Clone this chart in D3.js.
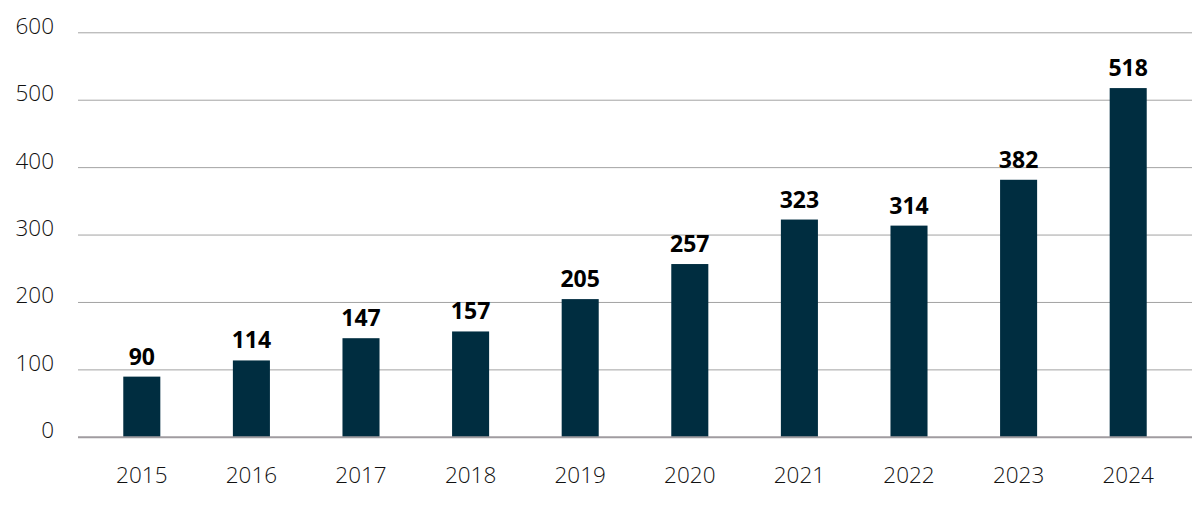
<!DOCTYPE html>
<html><head><meta charset="utf-8">
<script src="https://cdn.jsdelivr.net/npm/d3@7"></script>
<style>body{margin:0;background:#fff}</style>
</head><body>
<svg id="c" width="1200" height="510"></svg>
<script>
const years = ["2015","2016","2017","2018","2019","2020","2021","2022","2023","2024"];
const values = [90,114,147,157,205,257,323,314,382,518];
const yTicks = [0,100,200,300,400,500,600];

const svg = d3.select("#c");
const font = "'Open Sans', 'Noto Sans', sans-serif";
const x = d3.scaleBand().domain(years).range([87,1183]).paddingInner(0.662).paddingOuter(0.331);
const y = d3.scaleLinear().domain([0,600]).range([437.3,32.8]);

// gridlines
svg.append("g").selectAll("line").data(yTicks.filter(d=>d>0)).join("line")
  .attr("x1",78).attr("x2",1192)
  .attr("y1",d=>y(d)).attr("y2",d=>y(d))
  .attr("stroke","#a3a3a3").attr("stroke-width",1);

// y labels
svg.append("g").selectAll("text").data(yTicks).join("text")
  .attr("x",54).attr("y",d=>y(d)+1)
  .attr("text-anchor","end")
  .attr("font-family",font).attr("font-size",22.5).attr("font-weight",300)
  .attr("fill","#111").text(d=>d);

// bars
svg.append("g").selectAll("rect").data(values).join("rect")
  .attr("x",(d,i)=>x(years[i])).attr("width",x.bandwidth())
  .attr("y",d=>y(d)).attr("height",d=>y(0)-y(d))
  .attr("fill","#002d40");

// baseline
svg.append("line").attr("x1",78).attr("x2",1192).attr("y1",y(0)).attr("y2",y(0))
  .attr("stroke","#a09ca0").attr("stroke-width",2);

// value labels
svg.append("g").selectAll("text").data(values).join("text")
  .attr("x",(d,i)=>x(years[i])+x.bandwidth()/2).attr("y",d=>y(d)-12)
  .attr("text-anchor","middle")
  .attr("font-family",font).attr("font-size",23).attr("font-weight",700)
  .attr("fill","#000").text(d=>d);

// x labels
svg.append("g").selectAll("text").data(years).join("text")
  .attr("x",d=>x(d)+x.bandwidth()/2).attr("y",483)
  .attr("text-anchor","middle")
  .attr("font-family",font).attr("font-size",22.5).attr("font-weight",300)
  .attr("fill","#111").text(d=>d);
</script>
</body></html>
